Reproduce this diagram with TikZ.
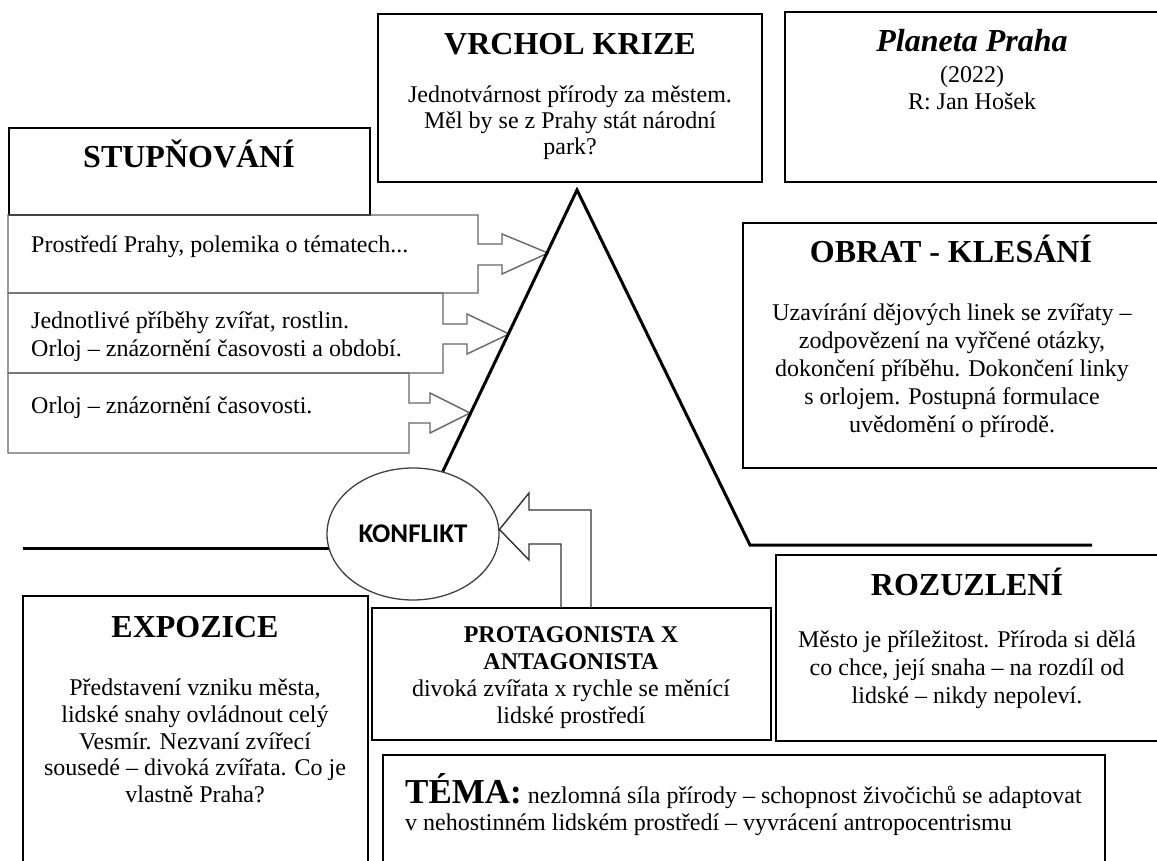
\documentclass[tikz,border=0pt]{standalone}
\usepackage{fontspec}
\setmainfont{Liberation Serif}
\newfontfamily\calib{Carlito}
\usetikzlibrary{shapes.geometric}
\begin{document}
\begin{tikzpicture}[x=1pt,y=-1pt,
  box/.style={draw=black, line width=1.8pt, inner sep=0pt, outer sep=0pt},
  ttl/.style={font=\fontsize{32}{34}\selectfont\bfseries, inner sep=0pt, anchor=base},
  ln/.style={font=\fontsize{24}{28}\selectfont, inner sep=0pt, anchor=base},
  lnl/.style={font=\fontsize{24}{28}\selectfont, inner sep=0pt, anchor=base west},
  abox/.style={draw=black!60, line width=1.4pt, line join=miter},
  tri/.style={line width=3pt, black, line join=miter},
  bigarr/.style={draw=black!80, line width=1.4pt, line join=miter},
]
\useasboundingbox (0,0) rectangle (1157,861);
% boxes
\node[box, minimum width=384pt, minimum height=168pt] (vrcholbox) at (570,98) {};
\node[box, minimum width=378pt, minimum height=170pt] (filmbox) at (974,97) {};
\node[box, minimum width=361pt, minimum height=87pt] (stupbox) at (189.5,171.5) {};
\node[box, minimum width=424pt, minimum height=245pt] (obratbox) at (955,345.5) {};
\node[box, minimum width=392pt, minimum height=186pt] (rozbox) at (972,648) {};
\node[box, minimum width=399pt, minimum height=132pt] (protbox) at (571.5,674) {};
\node[box, minimum width=345pt, minimum height=280pt] (expbox) at (195.5,736) {};
\node[box, minimum width=722pt, minimum height=120pt] (temabox) at (744,815) {};

% arrow boxes of the rising action
\draw[abox] (8,215) -- (478,215) -- (478,244) -- (502,244) -- (502,234) -- (548,253)
  -- (502,274) -- (502,265) -- (478,265) -- (478,293) -- (8,293) -- cycle;
\draw[abox] (8,293) -- (443,293) -- (443,324) -- (467,324) -- (467,314) -- (509,334)
  -- (467,354) -- (467,344) -- (443,344) -- (443,373) -- (8,373) -- cycle;
\draw[abox] (8,373) -- (409,373) -- (409,403) -- (430,403) -- (430,393) -- (470,413)
  -- (430,433) -- (430,423) -- (409,423) -- (409,453) -- (8,453) -- cycle;

% conflict ellipse
\node[draw=black!75, line width=1.3pt, ellipse, minimum width=172pt, minimum height=132pt,
  inner sep=0pt, font=\calib\fontsize{27}{30}\selectfont\bfseries] (konflikt) at (413,534) {KONFLIKT};

% triangle (plot line)
\coordinate (apex) at (577,190);
\coordinate (baseR) at (750,545);
\coordinate (endR) at (1092,545);
\coordinate (lft) at (23,0);
\draw[tri] (konflikt) -- (apex) -- (baseR) -- (endR);
\draw[tri] (konflikt.190) -- (konflikt.190 -| lft);

% big arrow protagonista -> konflikt
\draw[bigarr] ([xshift=-10.5pt]protbox.north) |- (529,544) -- (529,560) -- (konflikt.3)
  -- (529,493) -- (529,510) -| ([xshift=19.5pt]protbox.north);

% texts
\node[ttl] (vrcholT) at (570,55) {VRCHOL KRIZE};
\node[ln] (vb1) at (570,103) {Jednotvárnost přírody za městem.};
\node[ln] (vb2) at (570,129) {Měl by se z Prahy stát národní};
\node[ln] (vb3) at (570,155) {park?};

\node[font=\fontsize{32}{34}\selectfont\bfseries\itshape, inner sep=0pt, anchor=base] (film) at (972,52) {Planeta Praha};
\node[ln] (rok) at (972,83) {(2022)};
\node[ln] (rezie) at (972,110) {R: Jan Hošek};

\node[ttl] (stupT) at (189,168) {STUPŇOVÁNÍ};
\node[lnl] (s1) at (31,253) {Prostředí Prahy, polemika o tématech...};
\node[lnl] (s2a) at (31,328) {Jednotlivé příběhy zvířat, rostlin.};
\node[lnl] (s2b) at (31,356) {Orloj – znázornění časovosti a období.};
\node[lnl] (s3) at (31,413) {Orloj – znázornění časovosti.};

\node[ttl] (obratT) at (951,263) {OBRAT - KLESÁNÍ};
\node[ln] (ob1) at (952,320) {Uzavírání dějových linek se zvířaty –};
\node[ln] (ob2) at (952,348) {zodpovězení na vyřčené otázky,};
\node[ln] (ob3) at (952,376) {dokončení příběhu. Dokončení linky};
\node[ln] (ob4) at (952,404) {s orlojem. Postupná formulace};
\node[ln] (ob5) at (952,432) {uvědomění o přírodě.};

\node[ttl] (rozT) at (967,595) {ROZUZLENÍ};
\node[ln] (rb1) at (967,647) {Město je příležitost. Příroda si dělá};
\node[ln] (rb2) at (967,675) {co chce, její snaha – na rozdíl od};
\node[ln] (rb3) at (967,703) {lidské – nikdy nepoleví.};

\node[ttl] (expT) at (195,637) {EXPOZICE};
\node[ln] (eb1) at (195,695) {Představení vzniku města,};
\node[ln] (eb2) at (195,722) {lidské snahy ovládnout celý};
\node[ln] (eb3) at (195,749) {Vesmír. Nezvaní zvířecí};
\node[ln] (eb4) at (195,775) {sousedé – divoká zvířata. Co je};
\node[ln] (eb5) at (195,802) {vlastně Praha?};

\node[ln, font=\fontsize{24}{27}\selectfont\bfseries] (pt1) at (571,642) {PROTAGONISTA X};
\node[ln, font=\fontsize{24}{27}\selectfont\bfseries] (pt2) at (571,669) {ANTAGONISTA};
\node[ln] (pb1) at (571,696) {divoká zvířata x rychle se měnící};
\node[ln] (pb2) at (571,723) {lidské prostředí};

\node[lnl] (tema1) at (405,803) {{\fontsize{35}{35}\selectfont\bfseries TÉMA:} nezlomná síla přírody – schopnost živočichů se adaptovat};
\node[lnl] (tema2) at (405,830) {v nehostinném lidském prostředí – vyvrácení antropocentrismu};
\end{tikzpicture}
\end{document}
